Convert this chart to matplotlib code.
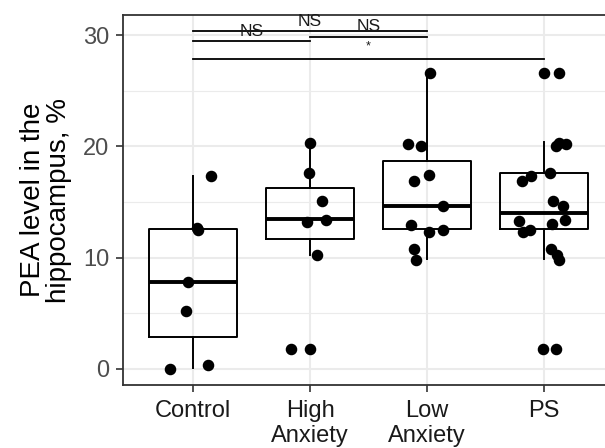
import matplotlib
matplotlib.use("Agg")
from matplotlib import pyplot as plt
from matplotlib.ticker import MultipleLocator

plt.rcParams['font.family'] = ['Liberation Sans', 'DejaVu Sans']

groups = ['Control', 'High\nAnxiety', 'Low\nAnxiety', 'PS']

# box stats: lower whisker, Q1, median, Q3, upper whisker
whislo = [0.06, 10.2, 9.9, 9.9]
q1 = [2.85, 11.65, 12.55, 12.55]
med = [7.85, 13.5, 14.65, 14.05]
q3 = [12.55, 16.3, 18.7, 17.57]
whishi = [17.3, 20.3, 26.55, 20.4]

# individual animals (y) and their horizontal jitter
ctrl_y = [17.3, 12.65, 12.5, 7.85, 5.24, 0.0, 0.36]
ctrl_dx = [0.15, 0.03, 0.04, -0.04, -0.06, -0.20, 0.13]
high_y = [20.3, 17.6, 15.1, 13.2, 13.4, 10.2, 1.8, 1.8]
high_dx = [0.0, -0.01, 0.10, -0.03, 0.14, 0.06, -0.16, 0.0]
low_y = [26.55, 20.2, 20.0, 17.4, 16.9, 14.6, 12.9, 12.35, 12.5, 10.75, 9.8]
low_dx = [0.03, -0.16, -0.05, 0.02, -0.11, 0.14, -0.14, 0.02, 0.14, -0.11, -0.09]
ps_y = [26.55, 26.55, 20.0, 20.3, 20.2, 17.65, 16.9, 17.3, 15.1, 14.6, 13.4,
        13.3, 13.0, 12.35, 12.5, 10.75, 10.25, 9.8, 1.8, 1.8]
ps_dx = [0.0, 0.13, 0.10, 0.13, 0.19, 0.05, -0.19, -0.11, 0.08, 0.16, 0.18,
         -0.21, 0.07, -0.18, -0.12, 0.06, 0.11, 0.13, -0.01, 0.10]

# significance brackets: (from group, to group, line y, label, label y)
sig_from = [1, 1, 2, 1]
sig_to = [2, 3, 3, 4]
sig_line = [29.45, 30.37, 29.8, 27.82]
sig_label = ['NS', 'NS', 'NS', '*']
sig_text_y = [30.3, 31.2, 30.75, 29.0]

fig = plt.figure(figsize=(6.05, 4.48), dpi=100)
ax = fig.add_axes([0.2033, 0.1406, 0.8116, 0.8259])

stats = []
for i in range(len(groups)):
    stats.append(dict(whislo=whislo[i], q1=q1[i], med=med[i], q3=q3[i], whishi=whishi[i], fliers=[]))
ax.bxp(stats, positions=[1, 2, 3, 4], widths=0.75, showfliers=False, showcaps=False,
       boxprops=dict(color='black', linewidth=1.4),
       whiskerprops=dict(color='black', linewidth=1.4),
       medianprops=dict(color='black', linewidth=2.8), zorder=3)

all_y = [ctrl_y, high_y, low_y, ps_y]
all_dx = [ctrl_dx, high_dx, low_dx, ps_dx]
for i, (ys, dxs) in enumerate(zip(all_y, all_dx)):
    xs = [i + 1 + d for d in dxs]
    ax.plot(xs, ys, 'o', color='black', markersize=7.3, zorder=4)

for a, b, yl, lab, yt in zip(sig_from, sig_to, sig_line, sig_label, sig_text_y):
    ax.plot([a, b], [yl, yl], color='black', linewidth=1.3, zorder=5, clip_on=False)
    fs = 12.5 if lab == 'NS' else 9
    ax.text((a + b) / 2, yt, lab, ha='center', va='center', fontsize=fs, color='#1a1a1a', zorder=6)

ax.set_xlim(0.4, 4.6)
ax.set_ylim(-1.44, 31.8)
ax.set_xticks([1, 2, 3, 4])
ax.set_xticklabels(groups, fontsize=17, color='#1a1a1a', linespacing=1.15)
ax.yaxis.set_major_locator(MultipleLocator(10))
ax.yaxis.set_minor_locator(MultipleLocator(5))
ax.tick_params(axis='y', labelsize=17, labelcolor='#4d4d4d', pad=5)
ax.tick_params(axis='x', pad=6)
ax.tick_params(axis='both', which='major', length=5, width=1.2, color='#333333')
ax.tick_params(axis='both', which='minor', length=0)
ax.grid(True, which='major', color='#ebebeb', linewidth=1.5, zorder=0)
ax.grid(True, which='minor', color='#ebebeb', linewidth=0.8, zorder=0)
ax.set_axisbelow(True)
for sp in ax.spines.values():
    sp.set_color('#333333')
    sp.set_linewidth(1.3)

ax.set_ylabel('PEA level in the\nhippocampus, %', fontsize=20, linespacing=1.0, labelpad=8)

fig.savefig('out.png', dpi=100)
